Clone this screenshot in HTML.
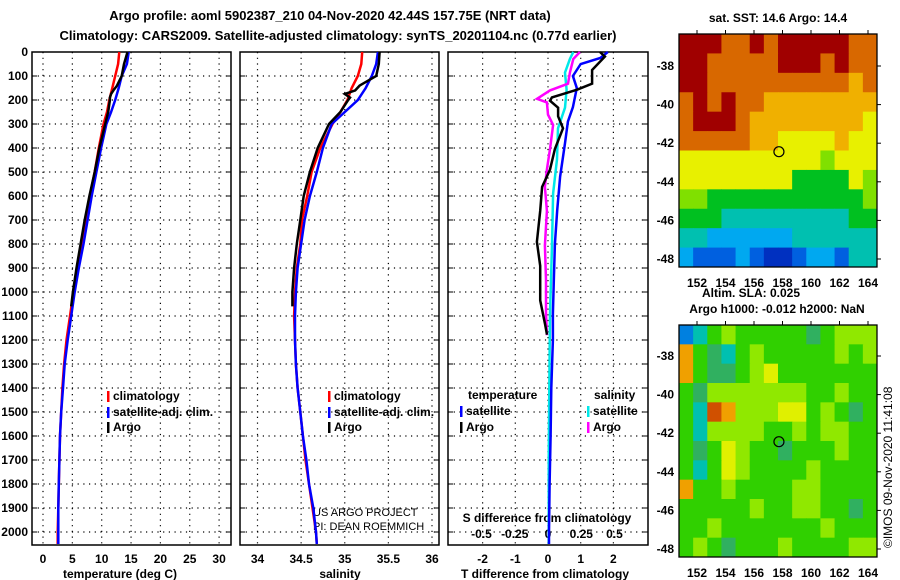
<!DOCTYPE html>
<html><head><meta charset="utf-8"><style>
body{margin:0;background:#fff;}
svg{display:block;font-family:"Liberation Sans",Arial,sans-serif;}
.b{font-weight:bold;font-size:12px;fill:#000;}
.t{font-weight:bold;font-size:13px;fill:#000;}
</style></head><body>
<svg id="c" width="900" height="580" viewBox="0 0 900 580">
<text class="t" x="330" y="20" text-anchor="middle">Argo profile: aoml 5902387_210 04-Nov-2020 42.44S 157.75E (NRT data)</text>
<text class="t" x="338" y="40" text-anchor="middle">Climatology: CARS2009. Satellite-adjusted climatology: synTS_20201104.nc (0.77d earlier)</text>
<text class="b" x="120" y="578" text-anchor="middle">temperature (deg C)</text>
<text class="b" x="340" y="578" text-anchor="middle">salinity</text>
<text class="b" x="545" y="578" text-anchor="middle">T difference from climatology</text>
<text class="b" x="547" y="522" text-anchor="middle">S difference from climatology</text>
<text x="313" y="516" font-size="11">US ARGO PROJECT</text>
<text x="313" y="530" font-size="11">PI: DEAN ROEMMICH</text>
<text class="b" x="778" y="22" text-anchor="middle">sat. SST: 14.6 Argo: 14.4</text>
<text class="b" x="702" y="297">Altim. SLA: 0.025</text>
<text class="b" x="777" y="313" text-anchor="middle">Argo h1000: -0.012 h2000: NaN</text>
<text x="892" y="548" font-size="12" transform="rotate(-90 892 548)">©IMOS 09-Nov-2020 11:41:08</text>
</svg>
<script>
const depthT=[0,50,100,150,200,250,300,400,500,600,700,800,900,1000,1100,1200,1300,1400,1500,1600,1700,1800,1900,2000,2050];
const tempClim=[13,12.8,12.3,11.8,11.3,10.9,10.3,9.5,8.8,8.0,7.3,6.6,5.9,5.2,4.6,4.0,3.6,3.3,3.1,2.9,2.8,2.7,2.6,2.5,2.5];
const tempSat=[14.6,14.3,13.4,12.9,12.3,11.6,10.8,9.9,9.1,8.3,7.6,6.9,6.1,5.4,4.8,4.2,3.7,3.4,3.1,2.9,2.8,2.7,2.6,2.6,2.6];
const depthArgo=[0,50,100,140,160,175,190,200,250,300,400,500,600,700,800,900,1000,1060];
const tempArgo=[14.4,13.8,13.4,12.6,12.0,11.6,11.4,11.4,11.1,10.6,9.6,8.8,7.9,7.1,6.4,5.7,5.1,4.8];
const depthS=[0,50,100,150,200,250,300,400,500,600,700,800,900,1000,1100,1200,1300,1400,1500,1600,1700,1800,1900,2000,2050];
const salClim=[35.2,35.19,35.15,35.08,35.03,34.95,34.86,34.72,34.62,34.57,34.51,34.49,34.45,34.43,34.42,34.43,34.44,34.46,34.49,34.52,34.55,34.59,34.63,34.67,34.68];
const salSat=[35.38,35.36,35.31,35.24,35.15,35.0,34.85,34.75,34.68,34.6,34.54,34.5,34.46,34.44,34.43,34.43,34.44,34.46,34.49,34.52,34.56,34.59,34.64,34.67,34.68];
const salArgo=[35.40,35.39,35.36,35.17,35.12,35.0,35.06,35.04,34.95,34.82,34.69,34.6,34.53,34.49,34.45,34.42,34.40,34.40];
const depthDT=[0,25,50,100,150,230,290,380,520,660,800,940,1090,1200,1400,1600,1800,2000,2050];
const dTSat=[1.83,1.6,1.0,0.76,0.88,0.76,0.61,0.52,0.37,0.28,0.21,0.18,0.15,0.15,0.1,0.08,0.05,0.03,0.03];
const depthDA=[0,19,75,132,157,189,203,232,268,318,404,490,562,662,791,891,1035,1135,1178];
const dTArgo=[1.59,1.74,1.35,1.35,0.89,0.12,0.06,0.31,0.31,0.46,0.21,0.06,-0.18,-0.24,-0.34,-0.24,-0.24,-0.09,-0.03];
const depthDS=[0,29,86,157,232,318,447,590,806,1090,1400,1700,2000,2050];
const dSSat=[0.19,0.165,0.128,0.14,0.128,0.075,0.068,0.038,0.03,0.015,0.01,0.005,0.005,0.005];
const depthDSA=[0,29,86,132,160,195,210,261,304,404,490,562,662,806,950,1090,1180];
const dSArgo=[0.24,0.19,0.165,0.15,0.015,-0.083,-0.008,0,0.038,0.015,-0.008,-0.023,-0.008,-0.023,-0.015,-0.015,-0.008];
const depthTicks=[0,100,200,300,400,500,600,700,800,900,1000,1100,1200,1300,1400,1500,1600,1700,1800,1900,2000];
const tempTicks=[0,5,10,15,20,25,30];
const salTicks=[34,34.5,35,35.5,36];
const dtTicks=[-2,-1,0,1,2];
const dsTicks=[-0.5,-0.25,0,0.25,0.5];
const lonTicks=[152,154,156,158,160,162,164];
const latTicks=[-38,-40,-42,-44,-46,-48];
const argoLon=157.75, argoLat=-42.44;
const sstGrid=[
[9,9,9,8,8,9,8,9,9,9,9,9,8,8],[9,9,8,8,8,8,8,9,9,9,8,9,8,8],[9,9,8,8,8,8,8,8,8,8,8,8,7,8],
[8,9,8,9,8,8,7,7,7,7,7,7,7,7],[8,9,9,9,8,7,7,7,7,7,7,7,7,6],[8,8,8,8,8,7,7,6,6,6,6,7,6,6],
[6,6,6,6,6,6,6,6,6,6,5,6,6,6],[6,6,6,6,6,6,6,6,4,4,4,4,6,5],[5,5,4,4,4,4,4,4,4,4,4,4,4,5],
[4,4,4,3,3,3,3,3,3,3,3,3,4,4],[3,3,2,2,2,2,2,2,3,3,3,3,3,3],[2,1,1,1,2,1,0,0,1,2,2,1,3,3]];
const slaGrid=[
[0,1,3,4,3,3,3,3,3,2,3,4,4,4],[6,3,2,1,3,4,3,3,3,3,3,4,3,4],[6,3,2,2,3,4,5,3,3,3,3,3,3,3],
[3,2,4,4,4,4,4,4,4,3,3,4,3,3],[3,1,7,6,4,4,4,5,5,3,4,3,2,3],[3,1,4,4,4,4,3,3,4,3,4,4,3,3],
[3,2,3,5,4,3,3,2,3,3,3,4,3,3],[3,1,3,5,4,3,3,3,3,4,3,3,3,3],[6,3,3,4,3,3,3,3,4,4,3,3,3,3],
[3,3,3,3,3,4,3,3,4,4,3,3,2,3],[3,3,4,3,3,3,3,3,3,3,4,3,3,3],[3,4,3,2,3,3,3,4,3,3,3,3,4,4]];
const sstPal=['#0030c0','#0060e0','#00a8f0','#00c0b0','#00c020','#80e000','#e8f000','#f0b000','#d86800','#a00000'];
const slaPal=['#0080e0','#00c0b0','#30b060','#30d000','#90e800','#e0f000','#f0a000','#d05000'];

const svg=document.getElementById('c');
const NS='http://www.w3.org/2000/svg';
function mk(tag,at,parent){const e=document.createElementNS(NS,tag);for(const k in at)e.setAttribute(k,at[k]);(parent||svg).appendChild(e);return e;}
const yD=d=>52+0.24*d;
const xT=t=>43+5.87*t;
const xS=s=>257.5+87.25*(s-34);
const xDT=v=>548+32.7*v;
const xDS=v=>548+133*v;
const panels=[{x0:32,x1:231,name:'temperature'},{x0:240,x1:439,name:'salinity'},{x0:448,x1:648,name:'difference'}];
panels.forEach(p=>{
  const g=mk('g',{});
  
  
  depthTicks.forEach(d=>{if(d>0){
    const l=mk('line',{x1:p.x0,x2:p.x1,y1:yD(d),y2:yD(d),stroke:'#000','stroke-width':1.2,'stroke-dasharray':'1.2 4.5'},g);
    
    
    mk('line',{x1:p.x0,x2:p.x0+5,y1:yD(d),y2:yD(d),stroke:'#000'},g);
    mk('line',{x1:p.x1,x2:p.x1-5,y1:yD(d),y2:yD(d),stroke:'#000'},g);
  }});
  const r=mk('rect',{x:p.x0,y:52,width:p.x1-p.x0,height:493,fill:'none',stroke:'#000','stroke-width':1.5},g);
  
  
});
depthTicks.forEach(d=>{
  const t=mk('text',{x:28,y:yD(d)+4,'text-anchor':'end',class:'b'});t.textContent=d;
  
  
});
function vgrid(ticks,fx,labY,fmt){ticks.forEach(v=>{
  const x=fx(v);
  const l=mk('line',{x1:x,x2:x,y1:52,y2:545,stroke:'#000','stroke-width':1.2,'stroke-dasharray':'1.2 4.5'});
  
  
  const t=mk('text',{x:x,y:labY,'text-anchor':'middle',class:'b'});t.textContent=fmt?fmt(v):v;
  
  
});}
vgrid(tempTicks,xT,563);
vgrid(salTicks,xS,563);
vgrid(dtTicks,xDT,563);
dsTicks.forEach(v=>{const t=mk('text',{x:xDS(v),y:538,'text-anchor':'middle',class:'b'});t.textContent=v;
  
  });
function line(ds,vs,fx,col,name){
  const pts=ds.map((d,i)=>fx(vs[i]).toFixed(1)+','+yD(d).toFixed(1)).join(' ');
  const e=mk('polyline',{points:pts,fill:'none',stroke:col,'stroke-width':2.5});
  
  
}
line(depthT,tempClim,xT,'#ff0000','temp-climatology-line');
line(depthT,tempSat,xT,'#0000ff','temp-satellite-line');
line(depthArgo,tempArgo,xT,'#000','temp-argo-line');
line(depthS,salClim,xS,'#ff0000','sal-climatology-line');
line(depthS,salSat,xS,'#0000ff','sal-satellite-line');
line(depthArgo,salArgo,xS,'#000','sal-argo-line');
line(depthDS,dSSat,xDS,'#00e8e8','sdiff-satellite-line');
line(depthDT,dTSat,xDT,'#0000ff','tdiff-satellite-line');
line(depthDSA,dSArgo,xDS,'#ff00ff','sdiff-argo-line');
line(depthDA,dTArgo,xDT,'#000','tdiff-argo-line');
function leg(x,y,col,txt){
  mk('rect',{x:x,y:y-9,width:2.5,height:11,fill:col});
  const t=mk('text',{x:x+6,y:y,class:'b'});t.textContent=txt;
  
  
}
leg(107,400,'#ff0000','climatology');leg(107,416,'#0000ff','satellite-adj. clim.');leg(107,431,'#000','Argo');
leg(328,400,'#ff0000','climatology');leg(328,416,'#0000ff','satellite-adj. clim.');leg(328,431,'#000','Argo');
{const t=mk('text',{x:468,y:399,class:'b'});t.textContent='temperature';}
{const t=mk('text',{x:594,y:399,class:'b'});t.textContent='salinity';}
leg(460,415,'#0000ff','satellite');leg(460,431,'#000','Argo');
leg(587,415,'#00e8e8','satellite');leg(587,431,'#ff00ff','Argo');
function map(grid,pal,y0,y1,lat38,labY,name){
  const x0=679,x1=877,rows=grid.length,cols=grid[0].length;
  const cw=(x1-x0)/cols,ch=(y1-y0)/rows;
  const g=mk('g',{});
  
  
  grid.forEach((row,i)=>row.forEach((v,j)=>{
    mk('rect',{x:x0+j*cw,y:y0+i*ch,width:cw+0.5,height:ch+0.5,fill:pal[v]},g);
  }));
  mk('rect',{x:x0,y:y0,width:x1-x0,height:y1-y0,fill:'none',stroke:'#000','stroke-width':1.3},g);
  const lx=v=>697+(v-152)*14.25, ly=v=>lat38+(-38-v)*19.3;
  lonTicks.forEach(v=>{const t=mk('text',{x:lx(v),y:labY,'text-anchor':'middle',class:'b'},g);t.textContent=v;
    
    mk('line',{x1:lx(v),x2:lx(v),y1:y0,y2:y0-4,stroke:'#000'},g);});
  latTicks.forEach(v=>{const t=mk('text',{x:674,y:ly(v)+4,'text-anchor':'end',class:'b'},g);t.textContent=v;
    
    mk('line',{x1:x1,x2:x1+4,y1:ly(v),y2:ly(v),stroke:'#000'},g);});
  const c=mk('circle',{cx:lx(argoLon),cy:ly(argoLat),r:5,fill:'none',stroke:'#000','stroke-width':1.2},g);
  
  
}
map(sstGrid,sstPal,34,267,66,287,'sst-map');
map(slaGrid,slaPal,325,557,356,577,'sla-map');
</script>
</body></html>
